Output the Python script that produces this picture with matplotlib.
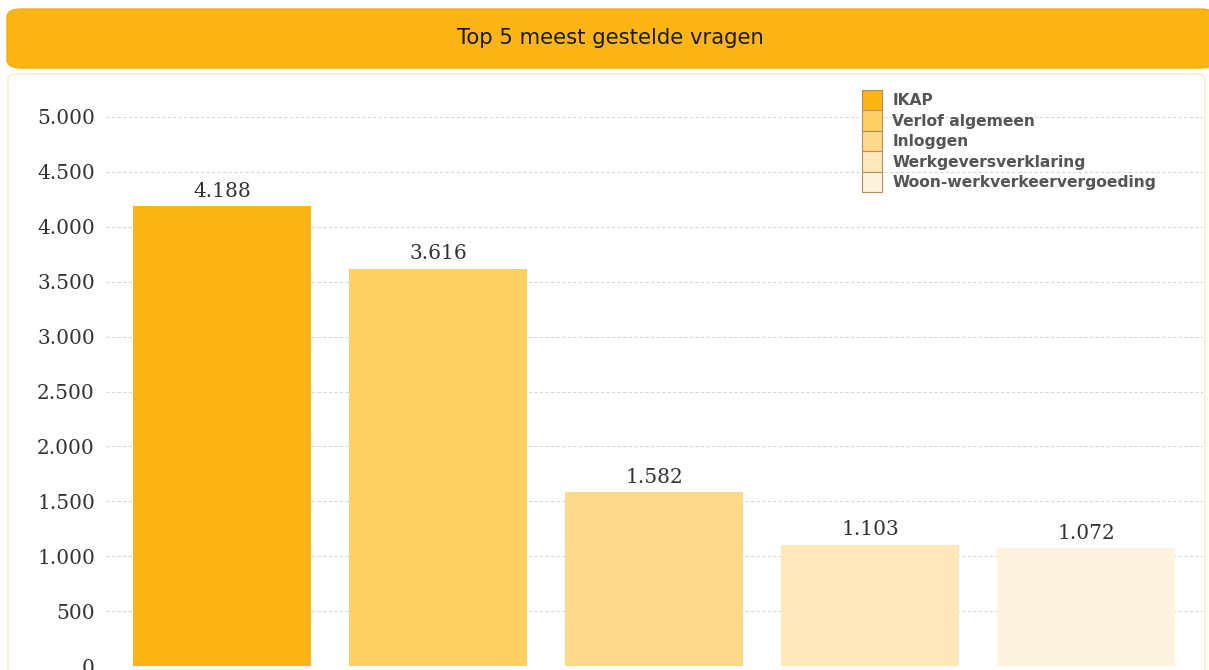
import matplotlib

matplotlib.use("Agg")
import matplotlib.pyplot as plt
from matplotlib.patches import FancyBboxPatch

# data
categories = ["IKAP", "Verlof algemeen", "Inloggen", "Werkgeversverklaring", "Woon-werkverkeervergoeding"]
values = [4188, 3616, 1582, 1103, 1072]
bar_colors = ["#FDB515", "#FED062", "#FED98A", "#FEE7B8", "#FEF3DC"]
y_ticks = [0, 500, 1000, 1500, 2000, 2500, 3000, 3500, 4000, 4500, 5000]
title = "Top 5 meest gestelde vragen"

W, H = 1209, 670


def fmt(v):
    return f"{v:,}".replace(",", ".")


fig = plt.figure(figsize=(W / 100, H / 100), dpi=100)

# header bar and panel outline (behind the axes)
fig.patches.append(FancyBboxPatch(
    (7 / W, 1 - 68 / H), (1215 - 7) / W, (68 - 9) / H,
    boxstyle="round,pad=0,rounding_size=0.012", transform=fig.transFigure,
    facecolor="#FDB515", edgecolor="#F5AC10", linewidth=1, zorder=-2))
fig.patches.append(FancyBboxPatch(
    (8 / W, -0.05), (1205 - 8) / W, (1 - 74 / H) + 0.05,
    boxstyle="round,pad=0,rounding_size=0.008", transform=fig.transFigure,
    facecolor="white", edgecolor="#FCEBC4", linewidth=1, zorder=-2))
fig.text(610 / W, 1 - 38 / H, title, ha="center", va="center",
         fontsize=15.2, color="#1A1A1A", family="DejaVu Sans")

# axes: x from 106px to 1203px, y from 666px (0) to 117px (5000)
ax = fig.add_axes([106 / W, (H - 666) / H, (1203 - 106) / W, (666 - 117) / H])
ax.set_zorder(1)
ax.set_facecolor("none")
pos = list(range(len(values)))
bars = ax.bar(pos, values, width=0.824, color=bar_colors, zorder=2)
ax.set_xlim(-0.537, 4.542)
ax.set_ylim(0, 5000)
ax.set_yticks(y_ticks)
ax.set_yticklabels([fmt(t) for t in y_ticks], family="DejaVu Serif",
                   fontsize=14.5, color="#333333")
ax.tick_params(axis="y", length=0, pad=8)
ax.set_xticks([])
for s in ax.spines.values():
    s.set_visible(False)
ax.grid(True, axis="y", color="#D8D8D8", linestyle=(0, (3, 2)), linewidth=0.8, zorder=0)

for p, v in zip(pos, values):
    ax.annotate(fmt(v), (p, v), xytext=(0, 4), textcoords="offset points",
                ha="center", va="bottom", fontsize=14.5, color="#333333",
                family="DejaVu Serif")

leg = ax.legend(bars, categories, loc="upper left",
                bbox_to_anchor=(862 / W, 1 - 90 / H), bbox_transform=fig.transFigure,
                frameon=False, fontsize=11.2, handlelength=1.3, handleheight=1.65,
                handletextpad=0.65, labelspacing=0.0, borderpad=0, borderaxespad=0)
for t in leg.get_texts():
    t.set_color("#555555")
    t.set_fontweight("bold")
for h in leg.legend_handles:
    h.set_edgecolor("#B09060")
    h.set_linewidth(0.8)

fig.savefig("out.png", dpi=100)
